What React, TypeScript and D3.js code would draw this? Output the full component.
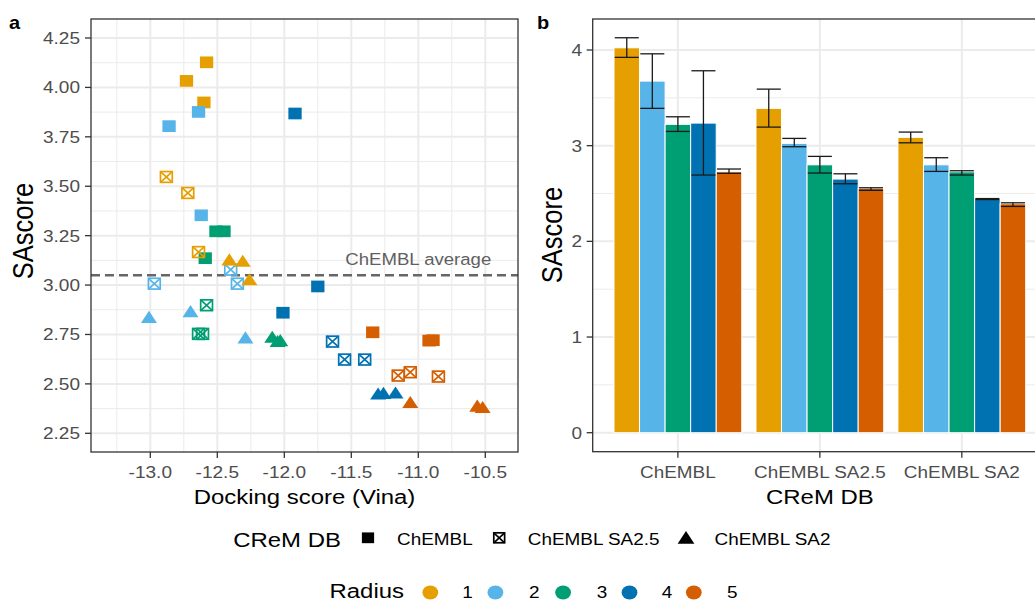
import * as d3 from "d3";

// horizontal stretch of the original raster (markers and text)
const SX = 1.14;
const FONT = "'Liberation Sans', Arial, Helvetica, sans-serif";

const dbNames = ["ChEMBL", "ChEMBL SA2.5", "ChEMBL SA2"];
const radiusLevels = ["1", "2", "3", "4", "5"];
const radiusColors = ["#E69F00", "#56B4E9", "#009E73", "#0072B2", "#D55E00"];

// panel a: three runs per radius and CReM DB
const pointRadius = [1, 1, 1, 2, 2, 2, 3, 3, 3, 4, 4, 4, 5, 5, 5];
const dockChEMBL = [-12.58, -12.73, -12.6, -12.64, -12.86, -12.62, -12.51, -12.45, -12.59, -11.92, -11.75, -12.01, -11.34, -10.92, -10.89];
const saChEMBL = [4.127, 4.033, 3.924, 3.876, 3.804, 3.353, 3.272, 3.272, 3.136, 3.868, 2.993, 2.86, 2.761, 2.719, 2.721];
const dockSA25 = [-12.88, -12.72, -12.64, -12.4, -12.35, -12.97, -12.58, -12.64, -12.61, -11.64, -11.55, -11.4, -11.15, -11.06, -10.85];
const saSA25 = [3.547, 3.466, 3.167, 3.078, 3.007, 3.007, 2.898, 2.753, 2.753, 2.714, 2.623, 2.623, 2.542, 2.559, 2.537];
const dockSA2 = [-12.41, -12.31, -12.26, -13.01, -12.7, -12.29, -12.09, -12.05, -12.03, -11.3, -11.26, -11.17, -11.06, -10.56, -10.52];
const saSA2 = [3.12, 3.113, 3.019, 2.829, 2.858, 2.725, 2.728, 2.707, 2.711, 2.441, 2.444, 2.446, 2.398, 2.38, 2.373];
const chemblAverage = 3.05;

const xTicks = [-13, -12.5, -12, -11.5, -11, -10.5];
const xTickLabels = ["-13.0", "-12.5", "-12.0", "-11.5", "-11.0", "-10.5"];
const yTicks = [2.25, 2.5, 2.75, 3, 3.25, 3.5, 3.75, 4, 4.25];
const yTickLabels = ["2.25", "2.50", "2.75", "3.00", "3.25", "3.50", "3.75", "4.00", "4.25"];

// panel b: mean SAscore with error bars
const meanChEMBL = [4.023, 3.675, 3.223, 3.236, 2.727];
const lowChEMBL = [3.923, 3.39, 3.149, 2.693, 2.711];
const highChEMBL = [4.128, 3.96, 3.302, 3.783, 2.756];
const meanSA25 = [3.39, 3.024, 2.8, 2.651, 2.554];
const lowSA25 = [3.194, 2.989, 2.714, 2.602, 2.533];
const highSA25 = [3.591, 3.076, 2.888, 2.706, 2.56];
const meanSA2 = [3.087, 2.8, 2.727, 2.442, 2.393];
const lowSA2 = [3.03, 2.731, 2.693, 2.437, 2.365];
const highSA2 = [3.142, 2.874, 2.738, 2.447, 2.403];
const bTicks = [0, 1, 2, 3, 4];
const bTickLabels = ["0", "1", "2", "3", "4"];

const T = ({ x, y, size, anchor = "start", fill = "#000", weight = "normal", rot = false, children }: any) => (
  <text
    transform={`translate(${x},${y}) scale(${SX},1)${rot ? " rotate(-90)" : ""}`}
    fontSize={size}
    textAnchor={anchor}
    fill={fill}
    fontWeight={weight}
    fontFamily={FONT}
  >
    {children}
  </text>
);

const Marker = ({ shape, x, y, color, k = 1 }: any) => {
  if (shape === 0) {
    return <rect x={x - 6.65 * k} y={y - 5.85 * k} width={13.3 * k} height={11.7 * k} fill={color} />;
  }
  if (shape === 1) {
    const hw = 5.9 * k, hh = 5.4 * k;
    return (
      <g stroke={color} strokeWidth={1.7} fill="none">
        <rect x={x - hw} y={y - hh} width={2 * hw} height={2 * hh} />
        <line x1={x - hw} y1={y - hh} x2={x + hw} y2={y + hh} />
        <line x1={x - hw} y1={y + hh} x2={x + hw} y2={y - hh} />
      </g>
    );
  }
  const xc = 5.2 * k;
  const p = `M0,${-1.555 * xc}L${1.347 * xc},${0.778 * xc}L${-1.347 * xc},${0.778 * xc}Z`;
  return <path d={p} transform={`translate(${x},${y}) scale(${SX},1)`} fill={color} />;
};

export default function App() {
  // panel a
  const aL = 91, aR = 518, aT = 19, aB = 452;
  const xA = d3.scaleLinear().domain([-13, -10.5]).range([150.3, 485.3]);
  const yA = d3.scaleLinear().domain([2.25, 4.25]).range([433.3, 38]);
  const xMinor = d3.range(-13.25, -10.3, 0.5);
  const yMinor = d3.range(2.375, 4.2, 0.25);

  const docks = [dockChEMBL, dockSA25, dockSA2];
  const sas = [saChEMBL, saSA25, saSA2];
  const points = docks.flatMap((arr, s) =>
    arr.map((d, i) => ({ shape: s, x: d, y: sas[s][i], r: pointRadius[i] }))
  );

  // panel b
  const bL = 592.7, bR = 1047, bT = 19, bB = 451.7;
  const xB = d3.scalePoint().domain(dbNames).range([bL, bR]).padding(0.6);
  const inner = d3.scaleBand().domain(radiusLevels).range([-0.45 * xB.step(), 0.45 * xB.step()]);
  const yB = d3.scaleLinear().domain([0, 4]).range([432.7, 50]);
  const means = [meanChEMBL, meanSA25, meanSA2];
  const lows = [lowChEMBL, lowSA25, lowSA2];
  const highs = [highChEMBL, highSA25, highSA2];
  const bw = inner.bandwidth();

  const gridMajor = "#EBEBEB";
  const tickCol = "#333333";
  const labCol = "#4D4D4D";

  // legend layout
  const shapeKeyX = [368, 499.2, 686];
  const shapeLabelX = [397.1, 527.8, 714.5];
  const colorKeyX = [430.3, 495.4, 563.1, 629.5, 693.8];
  const colorLabelX = [462.2, 529, 596.7, 661.8, 727];

  return (
    <svg width={1035} height={602} style={{ position: "absolute", left: 0, top: 0 }}>
      <rect width={1035} height={602} fill="#fff" />

      {/* ---------- panel a ---------- */}
      <g>
        {xMinor.map((v) => (
          <line key={"xm" + v} x1={xA(v)} x2={xA(v)} y1={aT} y2={aB} stroke={gridMajor} strokeWidth={1} />
        ))}
        {yMinor.map((v) => (
          <line key={"ym" + v} x1={aL} x2={aR} y1={yA(v)} y2={yA(v)} stroke={gridMajor} strokeWidth={1} />
        ))}
        {xTicks.map((v) => (
          <line key={"xg" + v} x1={xA(v)} x2={xA(v)} y1={aT} y2={aB} stroke={gridMajor} strokeWidth={2} />
        ))}
        {yTicks.map((v) => (
          <line key={"yg" + v} x1={aL} x2={aR} y1={yA(v)} y2={yA(v)} stroke={gridMajor} strokeWidth={2} />
        ))}
        <line x1={aL} x2={aR} y1={yA(chemblAverage)} y2={yA(chemblAverage)} stroke="#666" strokeWidth={2.6} strokeDasharray="9,5" />
        <T x={xA(-11)} y={yA(chemblAverage) - 10.5} size={16.3} anchor="middle" fill="#5f5f5f">ChEMBL average</T>
        {points.map((p, i) => (
          <Marker key={i} shape={p.shape} x={xA(p.x)} y={yA(p.y)} color={radiusColors[p.r - 1]} />
        ))}
        <rect x={aL} y={aT} width={aR - aL} height={aB - aT} fill="none" stroke={tickCol} strokeWidth={1.3} />
        {xTicks.map((v, i) => (
          <g key={"xt" + v}>
            <line x1={xA(v)} x2={xA(v)} y1={aB} y2={aB + 6} stroke={tickCol} strokeWidth={1.3} />
            <T x={xA(v)} y={478} size={16.7} anchor="middle" fill={labCol}>{xTickLabels[i]}</T>
          </g>
        ))}
        {yTicks.map((v, i) => (
          <g key={"yt" + v}>
            <line x1={aL - 6} x2={aL} y1={yA(v)} y2={yA(v)} stroke={tickCol} strokeWidth={1.3} />
            <T x={80} y={yA(v) + 6} size={16.7} anchor="end" fill={labCol}>{yTickLabels[i]}</T>
          </g>
        ))}
        <T x={(aL + aR) / 2} y={504} size={21} anchor="middle">Docking score (Vina)</T>
        <T x={33.3} y={231} size={25.5} anchor="middle" rot>SAscore</T>
        <T x={9} y={29} size={17.5} weight="bold">a</T>
      </g>

      {/* ---------- panel b ---------- */}
      <g>
        {[0.5, 1.5, 2.5, 3.5].map((v) => (
          <line key={"bm" + v} x1={bL} x2={bR} y1={yB(v)} y2={yB(v)} stroke={gridMajor} strokeWidth={1} />
        ))}
        {bTicks.map((v) => (
          <line key={"bg" + v} x1={bL} x2={bR} y1={yB(v)} y2={yB(v)} stroke={gridMajor} strokeWidth={2} />
        ))}
        {dbNames.map((d) => (
          <line key={"bx" + d} x1={xB(d)} x2={xB(d)} y1={bT} y2={bB} stroke={gridMajor} strokeWidth={2} />
        ))}
        {dbNames.map((d, g) =>
          radiusLevels.map((r, i) => {
            const x0 = (xB(d) as number) + (inner(r) as number);
            return (
              <rect
                key={d + r}
                x={x0}
                y={yB(means[g][i])}
                width={bw}
                height={yB(0) - yB(means[g][i])}
                fill={radiusColors[i]}
                stroke="#fff"
                strokeWidth={1}
              />
            );
          })
        )}
        {dbNames.map((d, g) =>
          radiusLevels.map((r, i) => {
            const cx = (xB(d) as number) + (inner(r) as number) + bw / 2;
            const ew = bw * 0.47;
            return (
              <g key={"e" + d + r} stroke="#1a1a1a" strokeWidth={1.3}>
                <line x1={cx - ew} x2={cx + ew} y1={yB(highs[g][i])} y2={yB(highs[g][i])} />
                <line x1={cx - ew} x2={cx + ew} y1={yB(lows[g][i])} y2={yB(lows[g][i])} />
                <line x1={cx} x2={cx} y1={yB(highs[g][i])} y2={yB(lows[g][i])} />
              </g>
            );
          })
        )}
        <rect x={bL} y={bT} width={bR - bL} height={bB - bT} fill="none" stroke={tickCol} strokeWidth={1.3} />
        {dbNames.map((d) => (
          <g key={"bt" + d}>
            <line x1={xB(d)} x2={xB(d)} y1={bB} y2={bB + 6} stroke={tickCol} strokeWidth={1.3} />
            <T x={xB(d)} y={478} size={16.6} anchor="middle" fill={labCol}>{d}</T>
          </g>
        ))}
        {bTicks.map((v, i) => (
          <g key={"byt" + v}>
            <line x1={bL - 6} x2={bL} y1={yB(v)} y2={yB(v)} stroke={tickCol} strokeWidth={1.3} />
            <T x={582} y={yB(v) + 6} size={16.7} anchor="end" fill={labCol}>{bTickLabels[i]}</T>
          </g>
        ))}
        <T x={(bL + bR) / 2} y={504} size={21} anchor="middle">CReM DB</T>
        <T x={562} y={235} size={25.5} anchor="middle" rot>SAscore</T>
        <T x={537} y={29} size={17.5} weight="bold">b</T>
      </g>

      {/* ---------- legends ---------- */}
      <g>
        <T x={233.2} y={546.7} size={21}>CReM DB</T>
        {shapeKeyX.map((kx, s) => (
          <Marker key={"lk" + s} shape={s} x={kx} y={s === 2 ? 539.5 : 537.8} color="#000" k={s === 2 ? 1.05 : 0.92} />
        ))}
        {dbNames.map((d, s) => (
          <T key={"ll" + d} x={shapeLabelX[s]} y={545} size={16.6}>{d}</T>
        ))}
        <T x={329.5} y={597.8} size={21}>Radius</T>
        {radiusLevels.map((r, i) => (
          <g key={"rl" + r}>
            <ellipse cx={colorKeyX[i]} cy={592.5} rx={7.9} ry={7} fill={radiusColors[i]} />
            <T x={colorLabelX[i]} y={598.3} size={16.6}>{r}</T>
          </g>
        ))}
      </g>
    </svg>
  );
}
